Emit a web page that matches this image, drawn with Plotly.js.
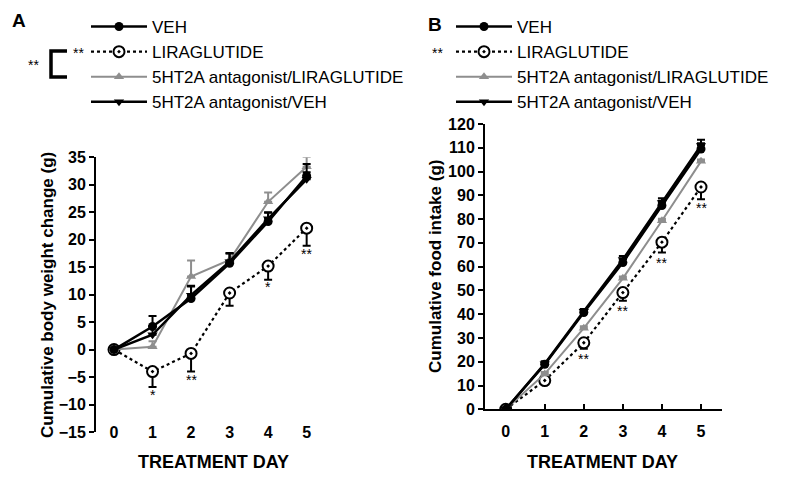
<!DOCTYPE html>
<html>
<head>
<meta charset="utf-8">
<script src="https://cdn.plot.ly/plotly-3.0.1.min.js"></script>
<style>html,body{margin:0;padding:0;background:#fff}#chart{width:800px;height:481px}</style>
</head>
<body>
<div id="chart"></div>
<script>
// ---- data ----
const days = [0, 1, 2, 3, 4, 5];
const seriesNames = ['VEH', 'LIRAGLUTIDE', '5HT2A antagonist/LIRAGLUTIDE', '5HT2A antagonist/VEH'];
const dayTickLabels = ['0', '1', '2', '3', '4', '5'];

// Panel A: cumulative body weight change (g)
const wtVeh        = [0, 4.2, 9.3, 15.7, 23.3, 31.6];
const wtVehErr     = [0, 1.9, 2.3, 1.9, 1.6, 2.2];
const wtLira       = [0, -4.0, -0.7, 10.3, 15.2, 22.1];
const wtLiraErr    = [0, 2.8, 3.3, 2.3, 2.5, 3.2];
const wtAntLira    = [0, 0.5, 13.3, 16.3, 26.9, 33.3];
const wtAntLiraErr = [0, 1.0, 2.9, 1.2, 1.7, 1.8];
const wtAntVeh     = [0, 2.7, 9.9, 16.0, 23.8, 31.0];
const wtAntVehErr  = [0, 1.6, 1.6, 1.5, 1.2, 1.3];

// Panel B: cumulative food intake (g)
const fiVeh        = [0, 18.9, 40.7, 61.7, 85.7, 109.5];
const fiVehErr     = [0, 1.0, 1.2, 1.6, 2.0, 2.4];
const fiLira       = [0, 12.1, 28.0, 49.1, 70.3, 93.5];
const fiLiraErr    = [0, 1.2, 2.5, 3.4, 4.4, 5.1];
const fiAntLira    = [0, 14.9, 34.1, 55.1, 79.3, 104.3];
const fiAntLiraErr = [0, 0.8, 0.8, 0.8, 0.8, 0.8];
const fiAntVeh     = [0, 19.2, 41.2, 63.0, 87.0, 111.0];
const fiAntVehErr  = [0, 1.0, 1.0, 1.5, 1.8, 2.4];

// significance marks: [day, y-position, text]
const starsA = [[1, -8.3, '*'], [2, -5.6, '**'], [4, 11.4, '*'], [5, 17.4, '**']];
const starsB = [[2, 21.0, '**'], [3, 41.5, '**'], [4, 61.6, '**'], [5, 84.5, '**']];

// ---- styling ----
const W = 800, H = 481;
const px = x => x / W;
const py = y => 1 - y / H;
const FONT = 'Arial, "Liberation Sans", sans-serif';
const GRAY = '#8e8e8e';

function mk(name, xs, ys, err, kind, xa, ya, legendId, rank, minus) {
  const styles = {
    veh:     {line: {color: '#000', width: 2.5}, marker: {symbol: 'circle', size: 9, color: '#000'}},
    lira:    {line: {color: '#000', width: 2.2, dash: 'dot'}, marker: {symbol: 'circle-dot', size: 11, color: '#fff', line: {color: '#000', width: 2}}},
    antlira: {line: {color: GRAY, width: 2}, marker: {symbol: 'triangle-up', size: 9, color: GRAY}},
    antveh:  {line: {color: '#000', width: 2.5}, marker: {symbol: 'triangle-down', size: 9, color: '#000'}}
  };
  const s = styles[kind];
  const zeros = err.map(() => 0);
  return {
    type: 'scatter', mode: 'lines+markers', name: name,
    x: xs, y: ys, xaxis: xa, yaxis: ya,
    line: s.line, marker: s.marker,
    error_y: {type: 'data', symmetric: false,
      array: minus ? zeros : err, arrayminus: minus ? err : zeros,
      color: kind === 'antlira' ? GRAY : '#000', thickness: 2, width: 4},
    legend: legendId, legendgroup: legendId + kind, legendrank: rank,
    hoverinfo: 'x+y'
  };
}

const data = [
  mk(seriesNames[1], days, wtLira, wtLiraErr, 'lira', 'x', 'y', 'legend', 2, true),
  mk(seriesNames[2], days, wtAntLira, wtAntLiraErr, 'antlira', 'x', 'y', 'legend', 3, false),
  mk(seriesNames[3], days, wtAntVeh, wtAntVehErr, 'antveh', 'x', 'y', 'legend', 4, false),
  mk(seriesNames[0], days, wtVeh, wtVehErr, 'veh', 'x', 'y', 'legend', 1, false),
  mk(seriesNames[1], days, fiLira, fiLiraErr, 'lira', 'x2', 'y2', 'legend2', 2, true),
  mk(seriesNames[2], days, fiAntLira, fiAntLiraErr, 'antlira', 'x2', 'y2', 'legend2', 3, false),
  mk(seriesNames[3], days, fiAntVeh, fiAntVehErr, 'antveh', 'x2', 'y2', 'legend2', 4, false),
  mk(seriesNames[0], days, fiVeh, fiVehErr, 'veh', 'x2', 'y2', 'legend2', 1, false)
];

const tickFont = {family: FONT, size: 16, color: '#000', weight: 'bold'};
const legendFont = {family: FONT, size: 17, color: '#000'};

const annotations = [];
starsA.forEach(s => annotations.push({xref: 'x', yref: 'y', x: s[0], y: s[1], text: s[2], showarrow: false, font: {family: FONT, size: 14, color: '#000'}}));
starsB.forEach(s => annotations.push({xref: 'x2', yref: 'y2', x: s[0], y: s[1], text: s[2], showarrow: false, font: {family: FONT, size: 14, color: '#000'}}));
function pa(x, y, text, size, bold, angle) {
  annotations.push({xref: 'paper', yref: 'paper', x: px(x), y: py(y), xanchor: 'center', yanchor: 'middle',
    text: text, showarrow: false, textangle: angle || 0,
    font: {family: FONT, size: size, color: '#000', weight: bold ? 'bold' : 'normal'}});
}
pa(19, 21, 'A', 19, true);
pa(435, 25, 'B', 19, true);
pa(47, 295, 'Cumulative body weight change (g)', 17, true, -90);
pa(435, 266, 'Cumulative food intake (g)', 17, true, -90);
pa(213, 462, 'TREATMENT DAY', 18, true);
pa(602, 462, 'TREATMENT DAY', 18, true);
pa(78, 53, '**', 14, false);
pa(33, 65, '**', 14, false);
pa(437, 53, '**', 14, false);

const shapes = [
  {type: 'path', xref: 'paper', yref: 'paper',
   path: `M ${px(67)} ${py(51)} L ${px(51)} ${py(51)} L ${px(51)} ${py(77)} L ${px(67)} ${py(77)}`,
   line: {color: '#000', width: 3.5}}
];

const layout = {
  width: W, height: H,
  margin: {l: 0, r: 0, t: 0, b: 0},
  paper_bgcolor: '#fff', plot_bgcolor: 'rgba(0,0,0,0)',
  showlegend: true,
  font: {family: FONT, color: '#000'},
  xaxis: {domain: [px(96), px(326.7)], range: [-0.467, 5.52], anchor: 'free', position: py(421),
    tickvals: days, ticktext: dayTickLabels, ticks: '', showline: false, showgrid: false, zeroline: false,
    tickfont: tickFont},
  xaxis3: {overlaying: 'x', matches: 'x', side: 'top', anchor: 'free', position: py(349.7),
    tickvals: days, ticks: 'outside', ticklen: 5, tickwidth: 2, tickcolor: '#000',
    showline: true, linewidth: 2, linecolor: '#000', showticklabels: false, showgrid: false, zeroline: false},
  yaxis: {domain: [py(432), py(157.3)], range: [-15, 35], anchor: 'x', dtick: 5, tick0: 0,
    ticks: 'outside', ticklen: 5, tickwidth: 2, tickcolor: '#000', showline: true, linewidth: 2, linecolor: '#000',
    showgrid: false, zeroline: false, tickfont: tickFont},
  xaxis2: {domain: [px(485), px(721.7)], range: [-0.53, 5.53], anchor: 'y2',
    tickvals: days, ticktext: dayTickLabels, ticks: 'inside', ticklen: 5, tickwidth: 2, tickcolor: '#000',
    ticklabelstandoff: 6,
    showline: true, linewidth: 2, linecolor: '#000', showgrid: false, zeroline: false, tickfont: tickFont},
  yaxis2: {domain: [py(409.3), py(124)], range: [0, 120], anchor: 'x2', dtick: 10, tick0: 0,
    ticks: 'outside', ticklen: 5, tickwidth: 2, tickcolor: '#000', showline: true, linewidth: 2, linecolor: '#000',
    showgrid: false, zeroline: false, tickfont: tickFont},
  legend: {x: px(86), y: py(9), xanchor: 'left', yanchor: 'top', bgcolor: 'rgba(0,0,0,0)',
    font: legendFont, itemwidth: 56, traceorder: 'grouped', tracegroupgap: 0, itemclick: false},
  legend2: {x: px(451), y: py(9), xanchor: 'left', yanchor: 'top', bgcolor: 'rgba(0,0,0,0)',
    font: legendFont, itemwidth: 56, traceorder: 'grouped', tracegroupgap: 0, itemclick: false},
  annotations: annotations,
  shapes: shapes
};

Plotly.newPlot('chart', data, layout, {displayModeBar: false, staticPlot: true});
</script>
</body>
</html>
